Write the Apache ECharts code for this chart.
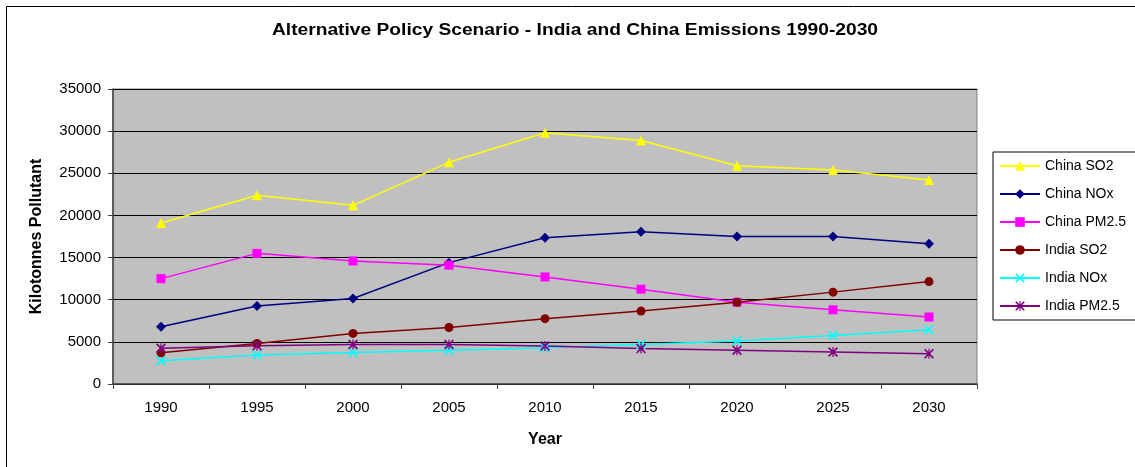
<!DOCTYPE html>
<html>
<head>
<meta charset="utf-8">
<script src="https://cdn.jsdelivr.net/npm/echarts@6/dist/echarts.min.js"></script>
<style>
  html, body { margin: 0; padding: 0; background: #fff; }
  #chart { width: 1135px; height: 467px; }
</style>
</head>
<body>
<div id="chart"></div>
<script>
// Emissions (kilotonnes) under the Alternative Policy Scenario
const years = ['1990', '1995', '2000', '2005', '2010', '2015', '2020', '2025', '2030'];
const chinaSO2   = [19100, 22400, 21200, 26300, 29800, 28900, 25900, 25400, 24200];
const chinaNOx   = [6800, 9250, 10150, 14400, 17350, 18050, 17500, 17500, 16650];
const chinaPM25  = [12500, 15500, 14600, 14100, 12700, 11250, 9700, 8800, 7950];
const indiaSO2   = [3700, 4800, 6000, 6700, 7750, 8650, 9700, 10900, 12150];
const indiaNOx   = [2750, 3450, 3750, 4000, 4300, 4700, 5100, 5750, 6450];
const indiaPM25  = [4250, 4550, 4700, 4700, 4500, 4200, 4000, 3800, 3600];
const yTicks = { min: 0, max: 35000, step: 5000 };

// Cross and asterisk markers as filled outlines
const crossPath = 'path://M0,1.2L1.2,0L10,8.8L8.8,10Z M8.8,0L10,1.2L1.2,10L0,8.8Z';
const starPath = 'path://M0,1.2L1.2,0L10,8.8L8.8,10Z M8.8,0L10,1.2L1.2,10L0,8.8Z M4.4,0L5.6,0L5.6,10L4.4,10Z';

const font = 'Liberation Sans, Arial, sans-serif';

function line(name, data, color, symbol, size) {
  return {
    name: name,
    type: 'line',
    data: data,
    symbol: symbol,
    symbolSize: size,
    showSymbol: true,
    lineStyle: { color: color, width: 1.5 },
    itemStyle: { color: color, borderColor: color, borderWidth: 0 },
    emphasis: { disabled: true },
    animation: false
  };
}

const chart = echarts.init(document.getElementById('chart'), null, { renderer: 'canvas' });
chart.setOption({
  backgroundColor: '#ffffff',
  animation: false,
  textStyle: { fontFamily: font },
  graphic: [{
    type: 'rect',
    shape: { x: 6.5, y: 6.5, width: 1140, height: 470 },
    style: { fill: 'none', stroke: '#000', lineWidth: 1 },
    silent: true,
    z: 0
  }, {
    // chart title, widened slightly
    type: 'text',
    x: 575,
    y: 31,
    scaleX: 1.2,
    style: {
      text: 'Alternative Policy Scenario - India and China Emissions 1990-2030',
      fontFamily: font,
      fontSize: 16,
      fontWeight: 'bold',
      fill: '#000',
      align: 'center',
      verticalAlign: 'middle'
    },
    silent: true,
    z: 10
  }],
  legend: {
    orient: 'vertical',
    left: 993,
    top: 152,
    padding: [7, 90, 7, 6],
    itemWidth: 40,
    itemHeight: 12,
    itemGap: 14,
    borderColor: '#000',
    borderWidth: 1,
    backgroundColor: '#fff',
    textStyle: { fontFamily: font, fontSize: 14, color: '#000' },
    data: ['China SO2', 'China NOx', 'China PM2.5', 'India SO2', 'India NOx', 'India PM2.5']
  },
  grid: {
    left: 113,
    top: 89,
    width: 864,
    height: 295,
    show: true,
    backgroundColor: '#C0C0C0',
    borderColor: '#808080',
    borderWidth: 1
  },
  xAxis: {
    type: 'category',
    data: years,
    boundaryGap: true,
    name: 'Year',
    nameLocation: 'middle',
    nameGap: 48,
    nameTextStyle: { fontFamily: font, fontSize: 16, fontWeight: 'bold', color: '#000' },
    axisLine: { show: true, lineStyle: { color: '#404040', width: 1.5 } },
    axisTick: { show: true, length: 5, inside: false, lineStyle: { color: '#404040' } },
    axisLabel: { fontFamily: font, fontSize: 15, color: '#000', margin: 16 },
    splitLine: { show: false }
  },
  yAxis: {
    type: 'value',
    min: yTicks.min,
    max: yTicks.max,
    interval: yTicks.step,
    name: 'Kilotonnes Pollutant',
    nameLocation: 'middle',
    nameGap: 68,
    nameRotate: 90,
    nameTextStyle: { fontFamily: font, fontSize: 16, fontWeight: 'bold', color: '#000' },
    axisLine: { show: true, lineStyle: { color: '#404040', width: 1.5 } },
    axisTick: { show: true, length: 5, inside: false, lineStyle: { color: '#404040' } },
    axisLabel: {
      fontFamily: font, fontSize: 15, color: '#000', margin: 12,
      formatter: function (v) { return String(v); }
    },
    splitLine: { show: true, lineStyle: { color: '#000', width: 1 } }
  },
  series: [
    line('China SO2', chinaSO2, '#FFFF00', 'triangle', 10),
    line('China NOx', chinaNOx, '#000080', 'diamond', 10),
    line('China PM2.5', chinaPM25, '#FF00FF', 'rect', 9),
    line('India SO2', indiaSO2, '#800000', 'circle', 9),
    line('India NOx', indiaNOx, '#00FFFF', crossPath, 10),
    line('India PM2.5', indiaPM25, '#800080', starPath, 10)
  ]
});
</script>
</body>
</html>
